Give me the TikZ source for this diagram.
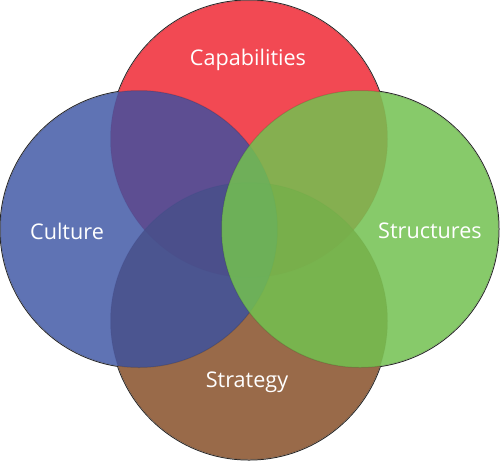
\documentclass[tikz,border=0pt]{standalone}
\usepackage{fontspec}
\setmainfont{Open Sans}
\definecolor{cred}{RGB}{240,42,53}
\definecolor{cblue}{RGB}{56,80,162}
\definecolor{cgreen}{RGB}{115,193,80}
\definecolor{cbrown}{RGB}{136,80,42}
\definecolor{edge}{RGB}{40,40,40}
\begin{document}
\begin{tikzpicture}[x=0.02cm,y=-0.02cm,
  outline/.style={draw=edge,line width=0.04cm},
  blank/.style={fill=white},
  petal/.style={fill opacity=0.85,draw=black,draw opacity=0.12,line width=0.02cm},
  lbl/.style={text=white,font=\fontsize{12.3}{14}\selectfont,inner sep=0pt}]
\useasboundingbox (0,0) rectangle (500,461);
% outer outline
\foreach \c in {(249,139),(249,321),(139,229),(360,229)}
  \draw[outline] \c circle[radius=138.5];
\foreach \c in {(249,139),(249,321),(139,229),(360,229)}
  \fill[blank] \c circle[radius=138.5];
% coloured discs
\path[petal,fill=cred] (249,139) circle[radius=138.5];
\path[petal,fill=cbrown] (249,321) circle[radius=138.5];
\path[petal,fill=cblue,fill opacity=0.8] (139,229) circle[radius=138.5];
\path[petal,fill=cgreen] (360,229) circle[radius=138.5];
% labels
\node[lbl] (cap) at (248,60) {Capabilities};
\node[lbl] (cul) at (67,231) {Culture};
\node[lbl] (str) at (430,231) {Structures};
\node[lbl] (stg) at (247,382) {Strategy};
\end{tikzpicture}
\end{document}
